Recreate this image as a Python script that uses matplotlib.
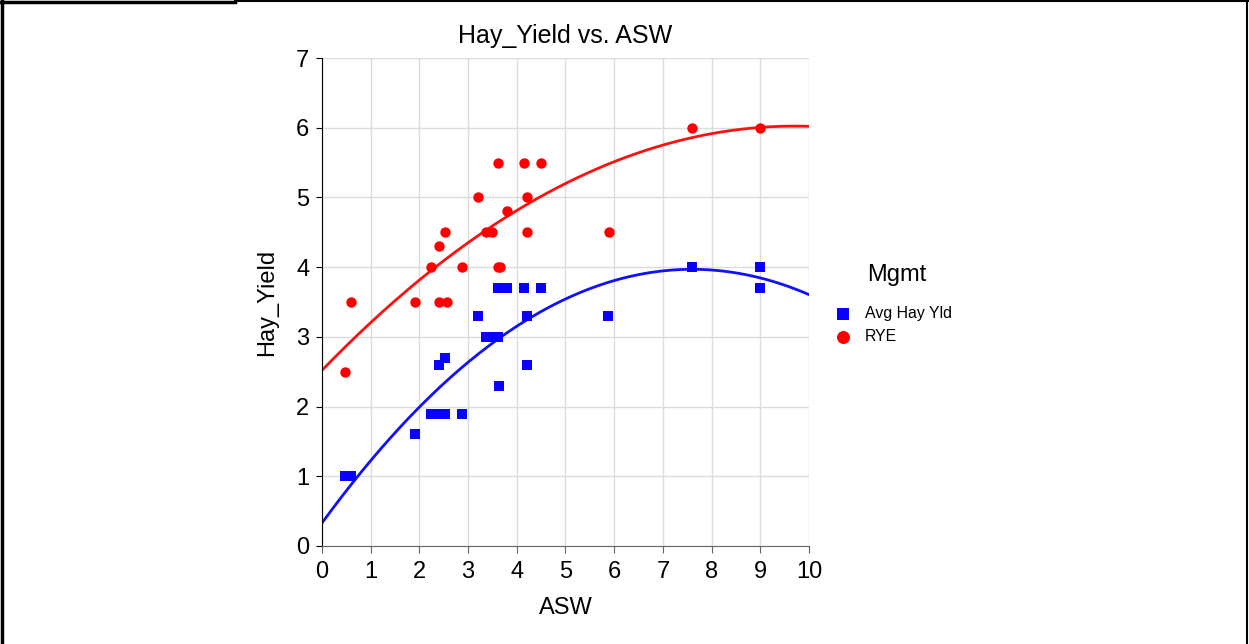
import numpy as np
import matplotlib
matplotlib.use('Agg')
from matplotlib import pyplot as plt
from matplotlib.lines import Line2D

plt.rcParams['font.family'] = ['Liberation Sans', 'DejaVu Sans']

# Avg Hay Yld (quadrados azuis)
asw_avg = [0.48, 0.60, 1.92, 2.24, 2.40, 2.53, 2.88, 2.41, 2.53, 3.64, 4.20,
           3.36, 3.50, 3.61, 3.21, 4.20, 5.88, 3.61, 3.65, 3.79, 4.15, 4.50,
           7.60, 9.00, 9.00]
hay_avg = [1.0, 1.0, 1.6, 1.9, 1.9, 1.9, 1.9, 2.6, 2.7, 2.3, 2.6,
           3.0, 3.0, 3.0, 3.3, 3.3, 3.3, 3.7, 3.7, 3.7, 3.7, 3.7,
           4.0, 4.0, 3.7]

# RYE (círculos vermelhos)
asw_rye = [0.48, 0.60, 1.92, 2.40, 2.56, 2.24, 2.88, 3.61, 3.65, 2.40,
           2.53, 3.36, 3.50, 4.20, 5.89, 3.79, 3.21, 4.20, 3.61, 4.15,
           4.50, 7.60, 9.00]
hay_rye = [2.5, 3.5, 3.5, 3.5, 3.5, 4.0, 4.0, 4.0, 4.0, 4.3,
           4.5, 4.5, 4.5, 4.5, 4.5, 4.8, 5.0, 5.0, 5.5, 5.5,
           5.5, 6.0, 6.0]

# Curvas de tendência quadráticas (coeficientes: c0 + c1*x + c2*x^2)
coef_avg = [0.33, 0.9576, -0.063]
coef_rye = [2.52, 0.722, -0.0372]

fig = plt.figure(figsize=(12.49, 6.44), dpi=100)
ax = fig.add_axes([0.2578, 0.1522, 0.3899, 0.7577])

xs = np.linspace(0, 10, 200)
ax.plot(xs, np.polyval(coef_avg[::-1], xs), color='#1010ff', lw=2, zorder=2)
ax.plot(xs, np.polyval(coef_rye[::-1], xs), color='#ff1010', lw=2, zorder=2)

ax.scatter(asw_avg, hay_avg, marker='s', s=44, color='#0a00ff', lw=0,
           label='Avg Hay Yld', zorder=3)
ax.scatter(asw_rye, hay_rye, marker='o', s=56, color='#ff0000', lw=0,
           label='RYE', zorder=3)

ax.set_xlim(0, 10)
ax.set_ylim(0, 7)
ax.set_xticks(range(0, 11))
ax.set_yticks(range(0, 8))
ax.grid(True, color='#dcdcdc', lw=1)
ax.set_axisbelow(True)
for s in ['top', 'right']:
    ax.spines[s].set_visible(False)
ax.spines['left'].set_color('black')
ax.spines['bottom'].set_color('#666666')
ax.tick_params(axis='x', colors='#666666', labelcolor='black', length=5,
               labelsize=17, pad=6)
ax.tick_params(axis='y', colors='black', length=4, labelsize=17, pad=5)

ax.set_title('Hay_Yield vs. ASW', fontsize=18, pad=11)
ax.set_xlabel('ASW', fontsize=17, labelpad=10)
ax.set_ylabel('Hay_Yield', fontsize=17, labelpad=13)

# Legenda: título separado e entradas
fig.text(897 / 1249, 1 - 275 / 644, 'Mgmt', fontsize=17, ha='center', va='center')
fig.legend(loc='center left', bbox_to_anchor=(827 / 1249, 1 - 325 / 644),
           frameon=False, fontsize=11.4, handletextpad=0.4, labelspacing=0.5,
           markerscale=1.25, borderpad=0, borderaxespad=0)

# Moldura da figura
fig.add_artist(Line2D([0.0015, 0.0015], [0, 1], color='black', lw=2.5,
                      transform=fig.transFigure))
fig.add_artist(Line2D([0, 0.188], [0.9975, 0.9975], color='black', lw=2.5,
                      transform=fig.transFigure))
fig.add_artist(Line2D([0.188, 1], [0.998, 0.998], color='black', lw=1.5,
                      transform=fig.transFigure))
fig.add_artist(Line2D([0.998, 0.998], [0, 1], color='black', lw=1.5,
                      transform=fig.transFigure))

fig.savefig('out.png', dpi=100)
